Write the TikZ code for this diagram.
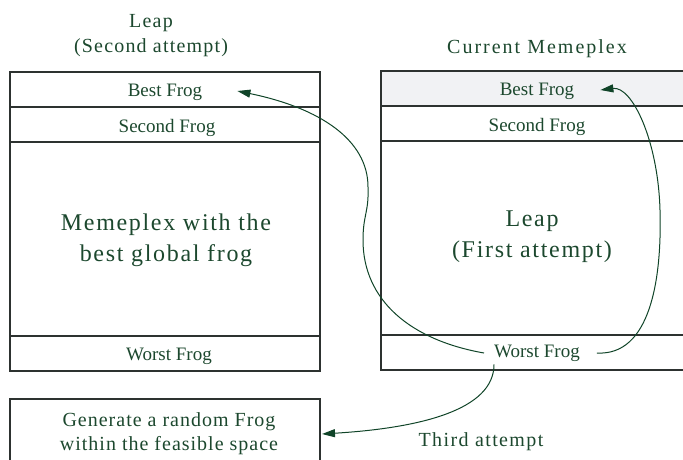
\documentclass[tikz,border=0pt]{standalone}
\usepackage{fontspec}
\setmainfont{Liberation Serif}
\usetikzlibrary{arrows.meta}
\definecolor{txtgreen}{RGB}{28,72,46}
\definecolor{arrgreen}{RGB}{16,68,40}
\definecolor{boxline}{RGB}{45,50,48}
\definecolor{rowfill}{RGB}{241,242,244}
\begin{document}
\begin{tikzpicture}[x=1pt,y=-1pt,
  lbl/.style={text=txtgreen, inner sep=0pt, font=\fontsize{19}{22}\selectfont},
  ttl/.style={text=txtgreen, inner sep=0pt, align=center, font=\fontsize{20}{25}\selectfont\addfontfeatures{LetterSpace=6}},
  big/.style={text=txtgreen, inner sep=0pt, align=center, font=\fontsize{24}{31}\selectfont\addfontfeatures{LetterSpace=7}},
  gentxt/.style={text=txtgreen, inner sep=0pt, align=center, font=\fontsize{20}{24}\selectfont\addfontfeatures{LetterSpace=5}},
  box/.style={draw=boxline, line width=1.2pt},
  conn/.style={draw=arrgreen, line width=1pt, -{Triangle[length=13pt,width=8pt]}}]
\useasboundingbox (0,0) rectangle (683,459);
\clip (0,0) rectangle (683,459);

% left memeplex
\draw[box] (10,72) rectangle (320,371);
\draw[box] (10,107) -- (320,107);
\draw[box] (10,142) -- (320,142);
\draw[box] (10,336) -- (320,336);

% right memeplex
\fill[rowfill] (381,71) rectangle (695,106);
\draw[box] (381,71) rectangle (695,370);
\draw[box] (381,106) -- (695,106);
\draw[box] (381,141) -- (695,141);
\draw[box] (381,335) -- (695,335);

% bottom box
\draw[box] (10,399) rectangle (320,475);
\coordinate (genR) at (320,434);

% titles
\node[ttl] (tLeft) at (151,36) {Leap\\(Second attempt)};
\node[ttl, font=\fontsize{20}{25}\selectfont\addfontfeatures{LetterSpace=10}] (tRight) at (537,49) {Current Memeplex};

% row labels
\node[lbl] (lBest) at (165,92) {Best Frog};
\node[lbl] (lSecond) at (167,128) {Second Frog};
\node[lbl] (lWorst) at (169,356) {Worst Frog};
\node[lbl] (rBest) at (537,91) {Best Frog};
\node[lbl] (rSecond) at (537,127) {Second Frog};
\node[lbl] (rWorst) at (537,353) {Worst Frog};

% middle texts
\node[big] (mLeft) at (166,240) {Memeplex with the\\best global frog};
\node[big] (mRight) at (532,237) {Leap\\(First attempt)};

% bottom texts
\node[gentxt] (gen) at (169,434) {Generate a random Frog\\within the feasible space};
\node[gentxt, font=\fontsize{20}{24}\selectfont\addfontfeatures{LetterSpace=7}] (third) at (481,442) {Third attempt};

% connectors
\draw[conn] ([xshift=-10pt]rWorst.west)
  .. controls (410,340) and (363,300) .. (363,240)
  .. controls (363,215) and (369,212) .. (368,187)
  .. controls (368,140) and (320,108) .. ([xshift=35pt,yshift=1pt]lBest.east);
\draw[conn] ([xshift=17pt]rWorst.east)
  .. controls (650,356) and (662,280) .. (660,210)
  .. controls (658,140) and (632,86) .. ([xshift=26pt,yshift=1pt]rBest.east);
\draw[conn] ([xshift=-43pt,yshift=-3pt]rWorst.south)
  .. controls (494,410) and (420,428) .. ([xshift=2pt]genR);
\end{tikzpicture}
\end{document}
